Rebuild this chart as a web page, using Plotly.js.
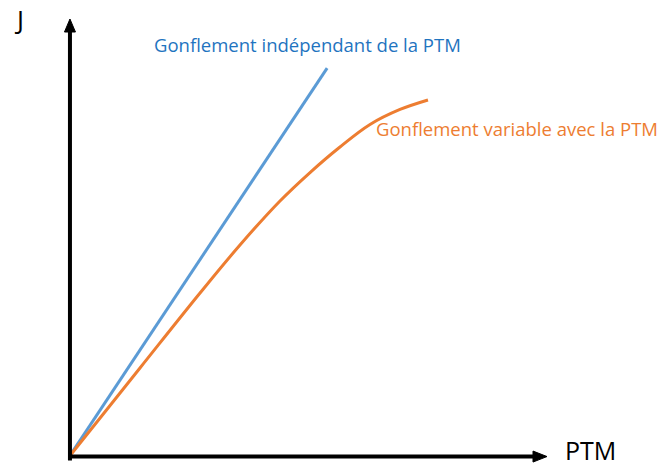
<!DOCTYPE html>
<html>
<head>
<meta charset="utf-8">
<script src="https://cdn.plot.ly/plotly-3.0.1.min.js"></script>
<style>html,body{margin:0;padding:0;background:#fff;}#chart{width:660px;height:470px;}</style>
</head>
<body>
<div id="chart"></div>
<script>
// Data (arbitrary units)
var blueX = [0, 54.0];
var blueY = [0, 88.8];
var orangeX = [0, 14.85, 27.41, 35.77, 44.14, 50.42, 56.69, 62.97, 69.25, 75.10];
var orangeY = [0, 20.32, 37.44, 48.40, 58.45, 64.95, 70.78, 75.91, 79.34, 81.51];
var blueLabel = "Gonflement indépendant de la PTM";
var orangeLabel = "Gonflement variable avec la PTM";
var xLabel = "PTM";
var yLabel = "J";

var FONT = "Open Sans, Noto Sans, sans-serif";

var traces = [
  {x: blueX, y: blueY, mode: "lines", line: {color: "#5b9bd5", width: 3}, cliponaxis: false, hoverinfo: "skip"},
  {x: orangeX, y: orangeY, mode: "lines", line: {color: "#ed7d31", width: 3, shape: "spline", smoothing: 1}, cliponaxis: false, hoverinfo: "skip"}
];

var layout = {
  width: 660, height: 470,
  margin: {l: 69, r: 113, t: 19, b: 13, pad: 0},
  paper_bgcolor: "#ffffff", plot_bgcolor: "#ffffff",
  showlegend: false,
  xaxis: {range: [0, 100], visible: false, fixedrange: true},
  yaxis: {range: [0, 100], visible: false, fixedrange: true},
  shapes: [
    // y axis shaft
    {type: "line", xref: "paper", yref: "paper", x0: 0.002, x1: 0.002, y0: -0.008, y1: 0.975, line: {color: "#000", width: 4}},
    // x axis shaft
    {type: "line", xref: "paper", yref: "paper", x0: -0.002, x1: 0.975, y0: 0.001, y1: 0.001, line: {color: "#000", width: 4}},
    // y arrowhead
    {type: "path", xref: "paper", yref: "paper", xsizemode: "pixel", ysizemode: "pixel", xanchor: 0.002, yanchor: 1.0,
     path: "M -5.5 -13 L 5.5 -13 L 0 0 Z", fillcolor: "#000", line: {color: "#000", width: 1}},
    // x arrowhead
    {type: "path", xref: "paper", yref: "paper", xsizemode: "pixel", ysizemode: "pixel", xanchor: 1.0, yanchor: 0.001,
     path: "M -14 5.5 L -14 -5.5 L 0 0 Z", fillcolor: "#000", line: {color: "#000", width: 1}}
  ],
  annotations: [
    {text: blueLabel, xref: "paper", yref: "paper", x: 0.499, y: 0.941, showarrow: false, xanchor: "center", yanchor: "middle",
     font: {family: FONT, size: 18.5, color: "#1f74c0"}},
    {text: orangeLabel, xref: "paper", yref: "paper", x: 0.937, y: 0.749, showarrow: false, xanchor: "center", yanchor: "middle",
     font: {family: FONT, size: 18.5, color: "#ed7d31"}},
    {text: yLabel, xref: "paper", yref: "paper", x: -0.105, y: 1.0, showarrow: false, xanchor: "center", yanchor: "middle",
     font: {family: FONT, size: 26, color: "#000"}},
    {text: xLabel, xref: "paper", yref: "paper", x: 1.092, y: -0.028, showarrow: false, xanchor: "center", yanchor: "bottom",
     font: {family: FONT, size: 25, color: "#000"}}
  ]
};

Plotly.newPlot("chart", traces, layout, {staticPlot: true, displayModeBar: false});
</script>
</body>
</html>
